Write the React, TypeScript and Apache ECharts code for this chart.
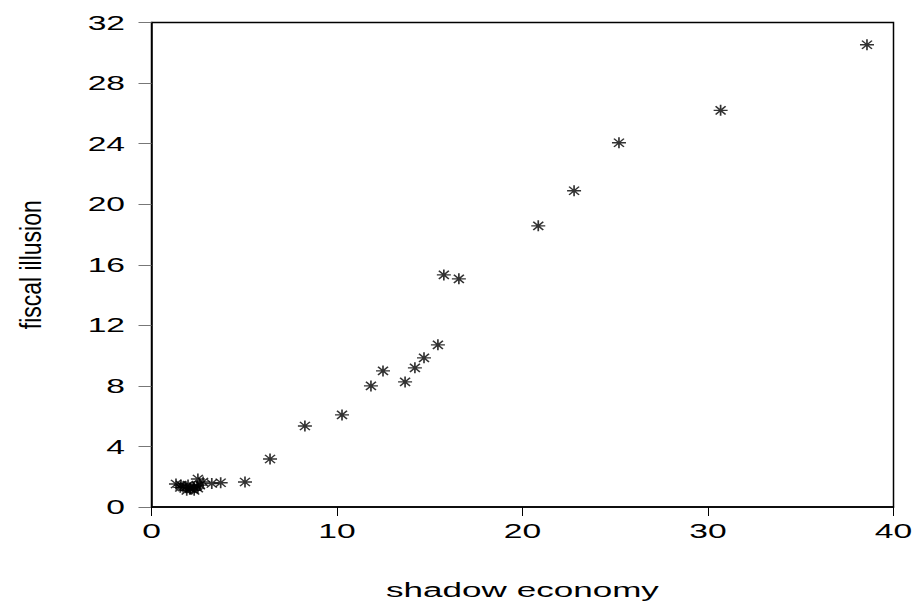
import React, { useEffect, useRef } from "react";
import * as echarts from "echarts";

const shadowEconomy: number[] = [
  38.57, 30.68, 25.2, 22.78, 20.85, 15.76, 16.57, 15.44, 14.69, 14.2, 13.67, 12.48,
  11.83, 10.27, 8.27, 6.39, 5.04, 3.73, 3.25, 2.78, 2.5, 1.32, 1.59, 1.86, 2.08,
  2.29, 2.45, 2.61, 1.7, 1.97, 2.2, 1.9, 2.3, 2.1, 1.55, 2.5,
];
const fiscalIllusion: number[] = [
  30.53, 26.2, 24.06, 20.89, 18.57, 15.33, 15.07, 10.71, 9.85, 9.19, 8.26, 8.99,
  8.0, 6.08, 5.35, 3.17, 1.65, 1.6, 1.55, 1.65, 1.85, 1.52, 1.45, 1.32, 1.26,
  1.32, 1.39, 1.45, 1.32, 1.45, 1.2, 1.1, 1.1, 1.2, 1.3, 1.25,
];
const xTickLabels: number[] = [0, 10, 20, 30, 40];
const yTickLabels: number[] = [0, 4, 8, 12, 16, 20, 24, 28, 32];
const xAxisTitle = "shadow economy";
const yAxisTitle = "fiscal illusion";

const STAR = "path://M0,-6L0,6M-7,0L7,0M-5,-4.5L5,4.5M-5,4.5L5,-4.5";
const FONT = "Liberation Sans, Arial, sans-serif";
const STRETCH = 1.6;

export default function App() {
  const ref = useRef<HTMLDivElement>(null);
  useEffect(() => {
    if (!ref.current) return;
    const chart = echarts.init(ref.current, undefined, { renderer: "svg" });
    const points = shadowEconomy.map((x, i) => [x, fiscalIllusion[i]]);
    chart.setOption({
      animation: false,
      backgroundColor: "#fff",
      grid: {
        left: 151.5,
        top: 22.5,
        right: 20.5,
        bottom: 99,
        show: true,
        borderColor: "#000",
        borderWidth: 1.5,
      },
      xAxis: {
        type: "value",
        min: xTickLabels[0],
        max: xTickLabels[xTickLabels.length - 1],
        interval: xTickLabels[1] - xTickLabels[0],
        splitLine: { show: false },
        axisLine: { show: true, onZero: false, lineStyle: { color: "#000", width: 1.5 } },
        axisTick: { show: true, inside: false, length: 9, lineStyle: { color: "#000", width: 1 } },
        axisLabel: { show: false },
      },
      yAxis: {
        type: "value",
        min: yTickLabels[0],
        max: yTickLabels[yTickLabels.length - 1],
        interval: yTickLabels[1] - yTickLabels[0],
        splitLine: { show: false },
        axisLine: { show: true, onZero: false, lineStyle: { color: "#000", width: 1.5 } },
        axisTick: { show: true, inside: false, length: 13, lineStyle: { color: "#777", width: 1 } },
        axisLabel: { show: false },
      },
      series: [
        {
          type: "scatter",
          data: points,
          symbol: STAR,
          symbolSize: [14, 11],
          itemStyle: { color: "#000", borderColor: "#000", borderWidth: 1.5 },
        },
      ],
    });

    const graphics: any[] = [];
    xTickLabels.forEach((v) => {
      const px = chart.convertToPixel({ xAxisIndex: 0 }, v) as number;
      graphics.push({
        type: "text",
        x: px,
        y: 531,
        scaleX: STRETCH,
        silent: true,
        style: {
          text: String(v),
          fill: "#000",
          font: `21px ${FONT}`,
          textAlign: "center",
          textVerticalAlign: "middle",
        },
      });
    });
    yTickLabels.forEach((v) => {
      const py = chart.convertToPixel({ yAxisIndex: 0 }, v) as number;
      graphics.push({
        type: "text",
        x: 125,
        y: py,
        scaleX: STRETCH,
        silent: true,
        style: {
          text: String(v),
          fill: "#000",
          font: `21px ${FONT}`,
          textAlign: "right",
          textVerticalAlign: "middle",
        },
      });
    });
    const x0 = chart.convertToPixel({ xAxisIndex: 0 }, xTickLabels[0]) as number;
    const x1 = chart.convertToPixel({ xAxisIndex: 0 }, xTickLabels[xTickLabels.length - 1]) as number;
    const y0 = chart.convertToPixel({ yAxisIndex: 0 }, yTickLabels[0]) as number;
    const y1 = chart.convertToPixel({ yAxisIndex: 0 }, yTickLabels[yTickLabels.length - 1]) as number;
    graphics.push({
      type: "text",
      x: (x0 + x1) / 2,
      y: 590,
      scaleX: 1.67,
      silent: true,
      style: {
        text: xAxisTitle,
        fill: "#000",
        font: `21px ${FONT}`,
        textAlign: "center",
        textVerticalAlign: "middle",
      },
    });
    graphics.push({
      type: "text",
      x: 31,
      y: (y0 + y1) / 2,
      rotation: Math.PI / 2,
      scaleY: 1.3,
      silent: true,
      style: {
        text: yAxisTitle,
        fill: "#000",
        font: `23px ${FONT}`,
        textAlign: "center",
        textVerticalAlign: "middle",
      },
    });
    chart.setOption({ graphic: graphics });
    return () => chart.dispose();
  }, []);
  return (
    <div
      ref={ref}
      style={{ position: "absolute", left: 0, top: 0, width: 914, height: 606 }}
    />
  );
}
